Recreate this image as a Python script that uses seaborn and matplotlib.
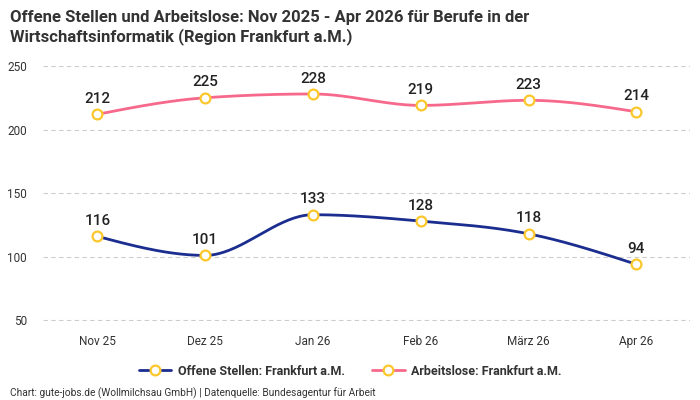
import numpy as np
import pandas as pd
import matplotlib
matplotlib.use("Agg")
import matplotlib.pyplot as plt
import seaborn as sns
from matplotlib.lines import Line2D

months = ["Nov 25", "Dez 25", "Jan 26", "Feb 26", "März 26", "Apr 26"]
offene_stellen = [116, 101, 133, 128, 118, 94]
arbeitslose = [212, 225, 228, 219, 223, 214]
series_names = ["Offene Stellen: Frankfurt a.M.", "Arbeitslose: Frankfurt a.M."]
y_ticks = [50, 100, 150, 200, 250]

title = "Offene Stellen und Arbeitslose: Nov 2025 - Apr 2026 für Berufe in der\nWirtschaftsinformatik (Region Frankfurt a.M.)"
footer = "Chart: gute-jobs.de (Wollmilchsau GmbH) | Datenquelle: Bundesagentur für Arbeit"

BLUE = "#1b2d8f"
PINK = "#f7698b"
GOLD = "#fbc72b"

sns.set_theme(style="white")
plt.rcParams["font.family"] = ["Roboto", "DejaVu Sans"]


def monotone(x, y, n=40):
    x = np.asarray(x, float)
    y = np.asarray(y, float)
    h = np.diff(x)
    s = np.diff(y) / h
    m = np.zeros_like(y)
    for i in range(1, len(y) - 1):
        if s[i - 1] * s[i] <= 0:
            m[i] = 0
        else:
            p = (s[i - 1] * h[i] + s[i] * h[i - 1]) / (h[i - 1] + h[i])
            m[i] = (np.sign(s[i - 1]) + np.sign(s[i])) * min(abs(s[i - 1]), abs(s[i]), 0.5 * abs(p))
    m[0] = (3 * s[0] - m[1]) / 2 if len(y) > 2 else s[0]
    m[-1] = (3 * s[-1] - m[-2]) / 2 if len(y) > 2 else s[-1]
    xs, ys = [], []
    for i in range(len(x) - 1):
        t = np.linspace(0, 1, n, endpoint=(i == len(x) - 2))
        h00 = 2 * t**3 - 3 * t**2 + 1
        h10 = t**3 - 2 * t**2 + t
        h01 = -2 * t**3 + 3 * t**2
        h11 = t**3 - t**2
        xs.append(x[i] + t * h[i])
        ys.append(h00 * y[i] + h10 * h[i] * m[i] + h01 * y[i + 1] + h11 * h[i] * m[i + 1])
    return np.concatenate(xs), np.concatenate(ys)


fig = plt.figure(figsize=(7, 4), dpi=100)
ax = fig.add_axes([0.062, 0.1975, 0.924, 0.6375])

pos = np.arange(len(months))
for vals, col, name in [(arbeitslose, PINK, series_names[1]), (offene_stellen, BLUE, series_names[0])]:
    cx, cy = monotone(pos, vals)
    curve = pd.DataFrame({"x": cx, "y": cy})
    sns.lineplot(data=curve, x="x", y="y", ax=ax, color=col, linewidth=2, sort=False, zorder=3)
    pts = pd.DataFrame({"x": pos, "y": vals})
    sns.scatterplot(data=pts, x="x", y="y", ax=ax, s=50, color="white", edgecolor=GOLD,
                    linewidth=1.6, zorder=4)
    for xi, v in zip(pos, vals):
        ax.annotate(str(v), (xi, v), xytext=(0, 6), textcoords="offset points",
                    ha="center", va="bottom", fontsize=11, fontweight="medium", color="#222222")

ax.set_xlim(-0.5, 5.5)
ax.set_ylim(49.4, 250)
ax.set_xticks(pos)
ax.set_xticklabels(months)
ax.set_yticks(y_ticks)
ax.set_xlabel("")
ax.set_ylabel("")
ax.tick_params(axis="both", length=0, labelsize=8.5, colors="#333333")
ax.tick_params(axis="x", pad=10)
ax.tick_params(axis="y", pad=12)
ax.grid(axis="y", linestyle=(0, (4, 3)), color="#cccccc", linewidth=0.8)
ax.set_axisbelow(True)
for sp in ax.spines.values():
    sp.set_visible(False)

handles = [
    Line2D([0], [0], color=BLUE, lw=2, marker="o", markersize=7, markerfacecolor="white",
           markeredgecolor=GOLD, markeredgewidth=1.6),
    Line2D([0], [0], color=PINK, lw=2, marker="o", markersize=7, markerfacecolor="white",
           markeredgecolor=GOLD, markeredgewidth=1.6),
]
leg = fig.legend(handles, series_names, loc="center", bbox_to_anchor=(0.5, 0.072), ncol=2,
                 frameon=False, prop={"size": 9, "weight": "bold"}, handlelength=2.6,
                 columnspacing=2.2, handletextpad=0.5)
for t in leg.get_texts():
    t.set_color("#333333")

fig.text(0.014, 0.975, title, ha="left", va="top", fontsize=12, fontweight="bold",
         color="#333333", linespacing=1.2)
fig.text(0.014, 0.003, footer, ha="left", va="bottom", fontsize=7.3, color="#333333")

fig.savefig("out.png", dpi=100, facecolor="white")
